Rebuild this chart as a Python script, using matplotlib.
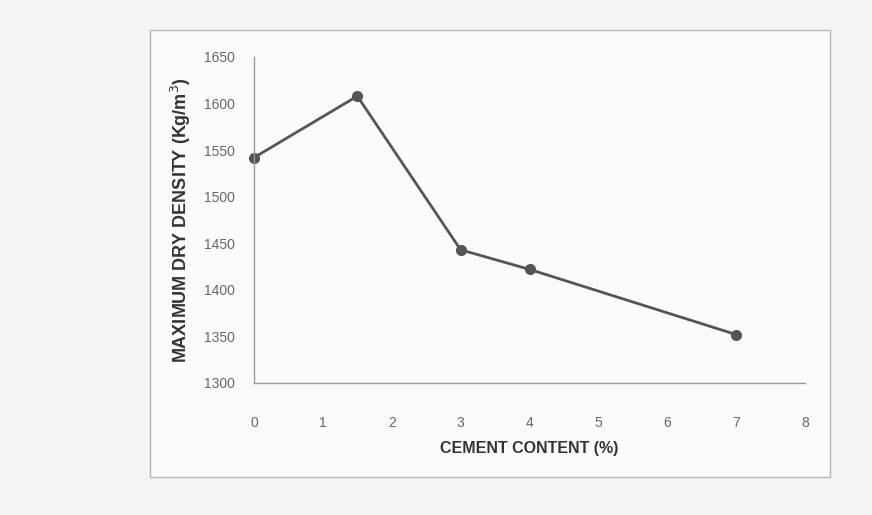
import matplotlib
matplotlib.use("Agg")
import matplotlib.pyplot as plt
from matplotlib.patches import Rectangle

cement_content = [0, 1.5, 3, 4, 7]
max_dry_density = [1542, 1608, 1443, 1422, 1352]
x_ticks = [0, 1, 2, 3, 4, 5, 6, 7, 8]
y_ticks = [1300, 1350, 1400, 1450, 1500, 1550, 1600, 1650]

plt.rcParams['font.family'] = ['Liberation Sans Narrow', 'Liberation Sans', 'DejaVu Sans']

W, H = 872, 515
fig = plt.figure(figsize=(W / 100, H / 100), dpi=100)
fig.patch.set_facecolor('#f4f4f4')

# chart area frame (background axes)
bg = fig.add_axes([0, 0, 1, 1], zorder=-5)
bg.set_xlim(0, W)
bg.set_ylim(H, 0)
bg.axis('off')
bg.add_patch(Rectangle((150, 30), 830 - 150, 447, facecolor='#fbfbfb',
                       edgecolor='#b8b8b8', linewidth=1.0))

ax = fig.add_axes([254 / W, 1 - 383 / H, (805 - 254) / W, (383 - 57) / H], zorder=1)
ax.set_facecolor('none')

ax.plot(cement_content, max_dry_density, color='#555555', linewidth=2,
        marker='o', markersize=7, markerfacecolor='#555555',
        markeredgecolor='#555555', clip_on=False)

ax.set_xlim(0, 8)
ax.set_ylim(1300, 1650)
ax.set_xticks(x_ticks)
ax.set_yticks(y_ticks)
ax.tick_params(axis='both', length=0, labelsize=10, colors='#666666')
ax.tick_params(axis='x', pad=24)
ax.tick_params(axis='y', pad=14)

for s in ['top', 'right']:
    ax.spines[s].set_visible(False)
for s in ['left', 'bottom']:
    ax.spines[s].set_color('#9a9a9a')
    ax.spines[s].set_linewidth(1.0)

ax.set_xlabel('CEMENT CONTENT (%)', fontsize=11.5, fontweight='bold',
              color='#333333', labelpad=8)
ax.set_ylabel('MAXIMUM DRY DENSITY (Kg/m$^3$)', fontsize=13,
              fontweight='bold', color='#333333', labelpad=8)

fig.savefig('out.png', dpi=100, facecolor=fig.get_facecolor())
